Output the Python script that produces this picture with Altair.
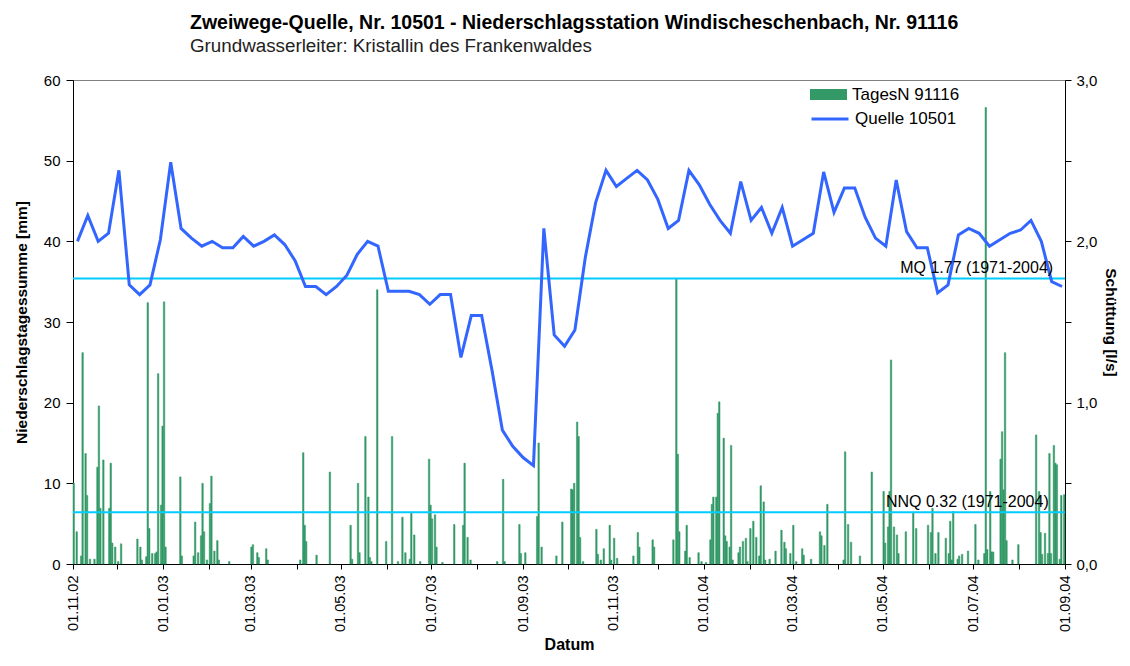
import altair as alt
import pandas as pd

FONT = "Liberation Sans"

# ---------------- data ----------------
# weekly discharge of the spring (l/s), first reading 2002-11-04
flow_start = "2002-11-04"
flow_q = [2.00, 2.16, 2.00, 2.05, 2.44, 1.73, 1.67, 1.73, 2.01, 2.49,
          2.08, 2.02, 1.97, 2.00, 1.96, 1.96, 2.03, 1.97, 2.00, 2.04,
          1.98, 1.88, 1.72, 1.72, 1.67, 1.72, 1.79, 1.92, 2.00, 1.97,
          1.69, 1.69, 1.69, 1.67, 1.61, 1.67, 1.67, 1.28, 1.54, 1.54,
          1.20, 0.83, 0.73, 0.66, 0.61, 2.08, 1.42, 1.35, 1.45, 1.90,
          2.24, 2.44, 2.34, 2.39, 2.44, 2.38, 2.26, 2.08, 2.13, 2.44,
          2.35, 2.23, 2.13, 2.05, 2.37, 2.13, 2.21, 2.05, 2.21, 1.97,
          2.01, 2.05, 2.43, 2.18, 2.33, 2.33, 2.15, 2.02, 1.97, 2.38,
          2.06, 1.96, 1.96, 1.68, 1.73, 2.04, 2.08, 2.05, 1.97, 2.01,
          2.05, 2.07, 2.13, 2.00, 1.75, 1.72]

# daily precipitation (mm): day number counted from 2002-11-01
rain_origin = "2002-11-01"
rain_day = [0, 2, 5, 6, 8, 9, 11, 14, 16, 17, 18, 20, 24, 25, 26, 28, 30, 32,
            43, 45, 46, 49, 50, 51, 53, 55, 56, 57, 59, 60, 61, 62, 72, 73,
            81, 82, 84, 86, 87, 88, 90, 92, 93, 95, 97, 98, 105, 120, 121,
            124, 125, 130, 131, 153, 155, 156, 157, 164, 173, 187, 188, 192,
            193, 197, 199, 200, 201, 205, 211, 215, 219, 222, 224, 227, 228,
            230, 234, 240, 241, 242, 244, 245, 249, 257, 263, 264, 266, 268,
            286, 290, 291, 301, 302, 305, 313, 314, 316, 326, 330, 336, 337,
            338, 340, 341, 342, 344, 353, 354, 356, 358, 362, 363, 365, 367,
            378, 381, 382, 391, 392, 405, 407, 408, 409, 413, 414, 416, 422,
            424, 427, 430, 431, 432, 434, 435, 436, 439, 440, 441, 443, 444,
            445, 449, 450, 452, 454, 455, 457, 459, 461, 463, 464, 466, 467,
            470, 474, 478, 480, 481, 484, 486, 488, 492, 493, 498, 504, 505,
            507, 509, 520, 521, 523, 525, 531, 539, 547, 548, 550, 551, 552,
            554, 556, 557, 562, 567, 569, 577, 579, 580, 582, 584, 589, 591,
            592, 593, 594, 597, 598, 600, 604, 609, 611, 615, 616, 617, 619,
            620, 621, 626, 627, 628, 629, 630, 634, 638, 650, 652, 653, 654,
            656, 658, 659, 660, 662, 663, 664, 666, 667, 669]
rain_mm = [10.0, 4.0, 1.0, 26.2, 13.7, 8.5, 0.6, 0.6, 12.0, 19.6, 6.9, 12.9,
           6.9, 12.5, 2.6, 2.1, 0.3, 2.5, 3.1, 2.1, 0.5, 0.9, 32.4, 4.4, 1.3,
           1.3, 1.5, 23.6, 7.3, 17.1, 32.5, 2.1, 10.8, 1.0, 1.0, 5.2, 1.4,
           3.5, 10.0, 4.0, 0.5, 7.5, 10.9, 1.6, 2.9, 0.5, 0.3, 2.1, 2.4, 1.4,
           0.8, 1.9, 0.5, 0.5, 13.8, 4.8, 2.8, 1.1, 11.4, 4.8, 0.6, 10.0, 1.4,
           15.8, 8.3, 0.8, 0.3, 34.0, 2.8, 15.8, 0.3, 5.8, 1.4, 0.6, 6.3, 3.6,
           0.3, 13.0, 7.3, 5.6, 6.1, 2.1, 0.2, 4.9, 4.8, 12.5, 3.3, 0.5, 0.3,
           10.5, 0.3, 4.9, 1.3, 1.4, 5.9, 15.0, 2.1, 1.0, 5.2, 9.3, 9.2, 10.0,
           17.6, 15.8, 3.3, 0.3, 4.3, 1.2, 0.5, 1.9, 4.8, 0.5, 3.2, 0.7, 1.0,
           3.9, 2.1, 3.0, 2.1, 3.0, 35.4, 13.6, 4.0, 1.6, 4.8, 0.8, 1.4, 0.3,
           0.2, 3.0, 7.4, 8.3, 8.3, 18.7, 20.1, 15.6, 3.5, 2.8, 2.1, 14.7, 0.5,
           1.4, 2.1, 2.8, 3.2, 0.3, 4.4, 5.3, 3.3, 1.0, 9.7, 7.7, 0.5, 0.6,
           1.6, 4.2, 2.7, 1.9, 1.3, 4.8, 0.3, 1.9, 1.1, 0.6, 4.0, 3.5, 2.3,
           7.4, 0.5, 13.9, 4.9, 2.7, 1.0, 11.4, 9.0, 2.6, 4.6, 9.0, 25.3, 4.6,
           3.6, 1.3, 4.0, 6.4, 4.4, 4.8, 3.9, 6.9, 1.3, 3.9, 3.2, 1.3, 5.3,
           0.5, 6.5, 0.6, 1.0, 1.2, 1.6, 4.9, 0.5, 1.3, 56.6, 1.8, 9.0, 1.5,
           1.5, 13.0, 16.4, 9.2, 26.2, 2.9, 0.5, 2.4, 16.0, 9.0, 3.9, 1.2,
           3.8, 1.3, 13.7, 1.3, 14.7, 12.5, 12.3, 0.6, 8.5, 8.6]

# reference discharges
ref_q = [1.77, 0.32]
ref_label = ["MQ 1.77 (1971-2004)", "NNQ 0.32 (1971-2004)"]
ref_date = ["2004-08-24", "2004-08-21"]

bar_name = "TagesN 91116"
line_name = "Quelle 10501"

# ---------------- tables ----------------
o = pd.Timestamp(rain_origin)
rain_df = pd.DataFrame({
    "date": [(o + pd.Timedelta(days=d)).strftime("%Y-%m-%d") for d in rain_day],
    "date_end": [(o + pd.Timedelta(days=d + 1)).strftime("%Y-%m-%d") for d in rain_day],
    "mm": rain_mm,
    "series": bar_name,
})
flow_df = pd.DataFrame({
    "date": pd.date_range(flow_start, periods=len(flow_q), freq="7D").strftime("%Y-%m-%d"),
    "q": flow_q,
    "series": line_name,
})
ref_df = pd.DataFrame({"q": ref_q, "label": ref_label, "date": ref_date})

month_ticks = [int(pd.Timestamp(t, tz="UTC").value // 10**6)
               for t in pd.date_range("2002-11-01", "2004-09-01", freq="MS").strftime("%Y-%m-%d")]

xenc = alt.X(
    "date:T",
    scale=alt.Scale(type="utc",
                    domain=[alt.DateTime(year=2002, month=11, date=1, utc=True),
                            alt.DateTime(year=2004, month=9, date=1, utc=True)]),
    axis=alt.Axis(values=month_ticks,
                  labelExpr="(utcmonth(datum.value) % 2 == 0) ? utcFormat(datum.value, '%d.%m.%y') : ''",
                  labelAngle=270, labelFontSize=14.5, labelOverlap=False, labelFlush=False,
                  labelPadding=6, tickSize=5, title="Datum", titleFontSize=16,
                  titleFontWeight="bold", titlePadding=5),
)

bars = alt.Chart(rain_df).mark_bar(stroke="#339966", strokeWidth=0.5).encode(
    x=xenc,
    x2="date_end:T",
    y=alt.Y("mm:Q", scale=alt.Scale(domain=[0, 60]),
            axis=alt.Axis(values=[0, 10, 20, 30, 40, 50, 60], title="Niederschlagstagessumme [mm]",
                          titleFontSize=15.5, titleFontWeight="bold", labelFontSize=15,
                          tickSize=7, labelPadding=6, titlePadding=14)),
    y2=alt.datum(0),
    fill=alt.Fill("series:N", scale=alt.Scale(domain=[bar_name], range=["#339966"]),
                  legend=alt.Legend(title=None, orient="none", legendX=737, legendY=-4,
                                    symbolType="M-1,-0.3H1V0.3H-1Z", symbolSize=1369,
                                    symbolStrokeWidth=0, labelFontSize=17, labelOffset=5,
                                    padding=0, labelFont=FONT)),
)

yq = alt.Y("q:Q", scale=alt.Scale(domain=[0, 3]),
           axis=alt.Axis(orient="right", values=[0, 0.5, 1, 1.5, 2, 2.5, 3],
                         labelExpr="datum.value % 1 == 0 ? replace(format(datum.value, '.1f'), '.', ',') : ''",
                         title="Schüttung [l/s]", titleFontSize=15.5, titleFontWeight="bold",
                         labelFontSize=15, tickSize=6, labelPadding=5, titlePadding=6))

rules = alt.Chart(ref_df).mark_rule(color="#00CCFF", strokeWidth=2).encode(y=yq)

line = alt.Chart(flow_df).mark_line(strokeWidth=3).encode(
    x=xenc,
    y=yq,
    stroke=alt.Stroke("series:N", scale=alt.Scale(domain=[line_name], range=["#3366FF"]),
                      legend=alt.Legend(title=None, orient="none", legendX=737, legendY=19,
                                        symbolType="stroke", symbolSize=1369,
                                        symbolStrokeWidth=3, labelFontSize=17, labelOffset=5,
                                        padding=0, labelFont=FONT)),
)

texts = alt.Chart(ref_df).mark_text(align="right", baseline="bottom", dy=-2,
                                    fontSize=16, font=FONT, color="#000000").encode(
    x=xenc, y=yq, text="label:N")

inner = alt.layer(rules, line, texts)

chart = alt.layer(bars, inner).resolve_scale(y="independent").properties(
    width=992, height=484,
    padding={"left": 6, "top": 4, "right": 1, "bottom": 0},
    title=alt.TitleParams(
        text="Zweiwege-Quelle, Nr. 10501 - Niederschlagsstation Windischeschenbach, Nr. 91116",
        subtitle="Grundwasserleiter: Kristallin des Frankenwaldes",
        anchor="start", frame="group", dx=117, fontSize=19.5, fontWeight="bold", font=FONT,
        subtitleFontSize=18.8, subtitleFont=FONT, subtitleColor="#222222",
        subtitlePadding=4, offset=16, color="#000000"),
).configure_view(stroke="#808080", strokeWidth=1).configure_axis(
    grid=False, domainColor="#000000", tickColor="#000000", labelColor="#000000",
    titleColor="#000000", labelFont=FONT, titleFont=FONT,
).configure_legend(labelColor="#000000")

chart.save("out.html", embed_options={"renderer": "svg", "actions": False})
